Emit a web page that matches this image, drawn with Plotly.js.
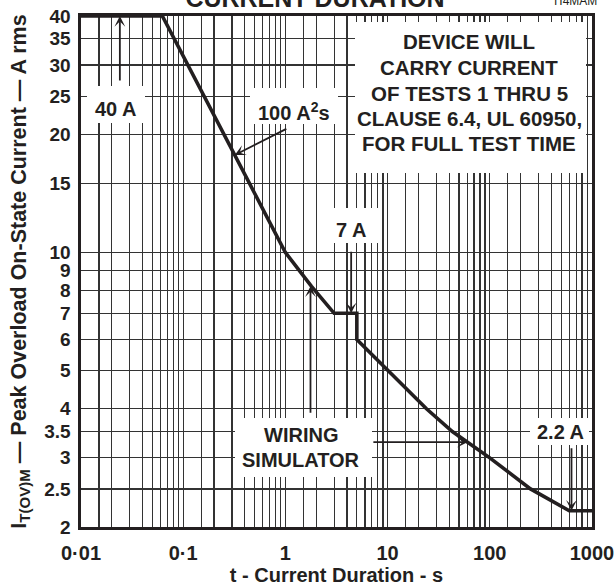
<!DOCTYPE html>
<html><head><meta charset="utf-8">
<script src="https://cdn.plot.ly/plotly-3.0.1.min.js"></script>
<style>html,body{margin:0;padding:0;background:#fff}#chart{width:616px;height:588px}</style>
</head><body><div id="chart"></div>
<script>
// ---- data ----
const durationS = [0.01, 0.0625, 1, 1.8, 3, 5, 5, 10, 24, 43, 100, 250, 600, 1000];
const currentA  = [40, 40, 10, 8.2, 7, 7, 6, 5, 4, 3.5, 3, 2.5, 2.2, 2.2];
const xTickVals = [0.01, 0.1, 1, 10, 100, 1000];
const xTickText = ['0·01', '0·1', '1', '10', '100', '1000'];
const xMinorMult = [1.5, 2, 3, 4, 5, 6, 7, 8, 9];
const yTickVals = [2, 2.5, 3, 3.5, 4, 5, 6, 7, 8, 9, 10, 15, 20, 25, 30, 35, 40];
const yTickText = ['2', '2.5', '3', '3.5', '4', '5', '6', '7', '8', '9', '10', '15', '20', '25', '30', '35', '40'];
// arrow targets (t in s, I in A)
const arrowT = [0.024, 0.32, 4.4, 1.76, 61, 630];
const arrowI = [40, 17.7, 7, 8.2, 3.29, 2.2];

// ---- styling ----
const INK = '#231f20';
const FONT = 'Liberation Sans, Arial, Helvetica, sans-serif';
const bold = (s) => ({family: FONT, size: s, color: INK, weight: 'bold'});
const L = 81, R = 592, T = 16, B = 527;
const X = (px) => (px - L) / (R - L);
const Y = (py) => (B - py) / (B - T);

const xMinor = [];
for (const d of [0.01, 0.1, 1, 10, 100]) for (const m of xMinorMult) xMinor.push(+(d * m).toPrecision(3));

const gridStyle = {showgrid: true, gridcolor: '#333333', gridwidth: 1.25};
const axisBase = {
  type: 'log', showline: true, mirror: true, linecolor: INK, linewidth: 2.6,
  ticks: '', zeroline: false, fixedrange: true, tickfont: bold(20), ...gridStyle
};

const boxes = [[87, 86, 145, 123], [250, 88, 338, 124], [355, 22, 586, 173],
               [333, 208, 378, 243], [235, 418, 372, 477], [530, 418, 589, 445]];
const shapes = boxes.map(b => ({
  type: 'rect', xref: 'paper', yref: 'paper', x0: X(b[0]), x1: X(b[2]), y0: Y(b[3]), y1: Y(b[1]),
  fillcolor: '#ffffff', line: {width: 0}, layer: 'above'
}));

const texts = [
  ['40 A', 116, 109, 20],
  ['100 A<sup>2</sup>s', 294, 111, 20],
  ['DEVICE WILL', 469, 41.7, 20.5],
  ['CARRY CURRENT', 469, 67.3, 20.5],
  ['OF TESTS 1 THRU 5', 469, 93, 20.5],
  ['CLAUSE 6.4, UL 60950,', 469, 118.3, 20.5],
  ['FOR FULL TEST TIME', 469, 143.3, 20.5],
  ['7 A', 351, 230, 20],
  ['WIRING', 301, 435, 20],
  ['SIMULATOR', 301, 460, 20],
  ['2.2 A', 560, 432, 20]
];
const annotations = texts.map(a => ({
  text: a[0], xref: 'paper', yref: 'paper', x: X(a[1]), y: Y(a[2]),
  xanchor: 'center', yanchor: 'middle', showarrow: false, font: bold(a[3])
}));
// arrow tails (pixel offsets from tip)
const tails = [[0, 66], [53, -27], [0, -63], [0, 128], [-96, 0], [0, -64]];
arrowT.forEach((t, i) => annotations.push({
  xref: 'x', yref: 'y', x: Math.log10(t), y: Math.log10(arrowI[i]), text: '',
  showarrow: true, ax: tails[i][0], ay: tails[i][1], arrowhead: 3, arrowsize: 1,
  arrowwidth: 1.8, arrowcolor: INK, standoff: 0
}));
annotations.push({
  text: 'TI4MAM', xref: 'paper', yref: 'paper', x: X(574), y: Y(1), xanchor: 'center', yanchor: 'middle',
  showarrow: false, font: {family: FONT, size: 12, color: INK}
});

const trace = {
  x: durationS, y: currentA, type: 'scatter', mode: 'lines',
  line: {color: INK, width: 3.6}, hoverinfo: 'skip'
};

const layout = {
  width: 616, height: 588, paper_bgcolor: '#fff', plot_bgcolor: '#fff',
  margin: {l: L, r: 616 - R, t: T, b: 588 - B},
  showlegend: false,
  title: {text: 'CURRENT DURATION', font: bold(25), x: 315 / 616, xanchor: 'center',
          yref: 'container', y: 1 - 7 / 588, yanchor: 'bottom'},
  xaxis: {...axisBase, range: [-2, 3], tickmode: 'array', tickvals: xTickVals, ticktext: xTickText,
          ticklabelstandoff: 6,
          minor: {tickmode: 'array', tickvals: xMinor, ...gridStyle, ticks: ''},
          title: {text: 't - Current Duration - s', font: bold(20), standoff: 3}},
  yaxis: {...axisBase, range: [Math.log10(2), Math.log10(40)], tickmode: 'array',
          tickvals: yTickVals, ticktext: yTickText, ticklabelstandoff: 4, tickfont: bold(19),
          title: {text: 'I<sub>T(OV)M</sub> — Peak Overload On-State Current — A rms', font: bold(21.5), standoff: 12}},
  shapes: shapes,
  annotations: annotations
};

Plotly.newPlot('chart', [trace], layout, {displayModeBar: false, staticPlot: true});
</script>
</body></html>
